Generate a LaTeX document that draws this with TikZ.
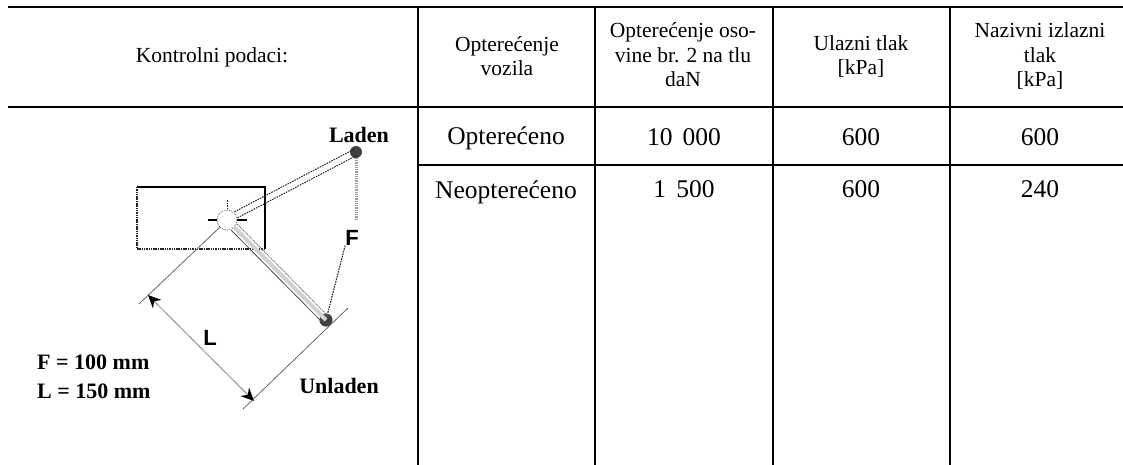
\documentclass[tikz,border=0pt]{standalone}
\usepackage{fontspec}
\setmainfont{Liberation Serif}
\newfontfamily\lsans{Liberation Sans}
\usetikzlibrary{arrows.meta}
\begin{document}
\begin{tikzpicture}[x=1pt,y=-1pt,
  rule/.style={line width=1.4pt,black},
  hd/.style={font=\fontsize{21.5}{24.5}\selectfont,align=center,inner sep=0pt,anchor=base},
  cell/.style={font=\fontsize{25.5}{28}\selectfont,align=center,inner sep=0pt,anchor=base},
  lbl/.style={font=\fontsize{22}{24}\selectfont\bfseries,inner sep=0pt,anchor=base},
  sym/.style={font=\lsans\bfseries\fontsize{22}{22}\selectfont,inner sep=0pt,anchor=center,black},
  dashline/.style={line width=1pt,black!85,dash pattern=on 1.6pt off 1pt},
  band/.style={line width=4pt,black!18},
  thinline/.style={line width=.8pt,black!70},
  extline/.style={line width=.8pt,black!60},
  dotball/.style={circle,fill=black!75,draw=black!60,densely dotted,inner sep=0pt},
  dim/.style={line width=1.4pt,black!45,dash pattern=on 1pt off .6pt,{Stealth[length=13pt,width=12pt,black]}-{Stealth[length=13pt,width=12pt,black]}}]
\useasboundingbox (0,0) rectangle (1123,465);
% table rules
\coordinate (tl) at (8,7); \coordinate (tr) at (1123,7);
\coordinate (hl) at (8,107); \coordinate (hr) at (1123,107);
\coordinate (rl) at (418,165); \coordinate (rr) at (1123,165);
\draw[rule] (tl)--(tr); \draw[rule] (hl)--(hr); \draw[rule] (rl)--(rr);
\foreach \n/\x in {a/418,b/595,c/773,d/950}{
  \coordinate (\n t) at (\x,7); \coordinate (\n b) at (\x,465);
  \draw[rule] (\n t)--(\n b);}
% headers
\node[hd] (h0) at (212,63) {Kontrolni podaci:};
\node[hd] (h1) at (507,76) {Opterećenje\\vozila};
\node[hd] (h2) at (683,87) {Opterećenje oso-\\vine br. 2 na tlu\\daN};
\node[hd] (h3) at (861,75) {Ulazni tlak\\{[kPa]}};
\node[hd] (h4) at (1040,87) {Nazivni izlazni\\tlak\\{[kPa]}};
% body cells
\node[cell] (c11) at (506,145) {Opterećeno};
\node[cell] (c12) at (684,146) {10\hspace{.4em}000};
\node[cell] (c13) at (861,146) {600};
\node[cell] (c14) at (1040,146) {600};
\node[cell] (c21) at (506,198) {Neopterećeno};
\node[cell] (c22) at (684,197) {1\hspace{.4em}500};
\node[cell] (c23) at (861,197) {600};
\node[cell] (c24) at (1040,197) {240};
% sketch: housing
\coordinate (rA) at (137,187); \coordinate (rB) at (265,187);
\coordinate (rC) at (265,249); \coordinate (rD) at (137,249);
\draw[line width=1.2pt,black] (rA)--(rB)--(rC);
\draw[line width=1.2pt,black!85,dash pattern=on 1.5pt off .8pt] (rC)--(rD)--(rA);
% balls
\node[dotball,minimum size=12pt] (lad) at (356,152) {};
\node[dotball,minimum size=13pt] (unl) at (326,320) {};
% pivot
\node[circle,draw=black!60,densely dotted,line width=.8pt,fill=white,minimum size=20pt,inner sep=0pt] (piv) at (227,220) {};
\coordinate (tL1) at (208,220); \coordinate (tL2) at (217,220);
\coordinate (tR1) at (237,220); \coordinate (tR2) at (247,220);
\coordinate (tT1) at (227,200); \coordinate (tT2) at (227,210);
\draw[line width=1.2pt,black] (tL1)--(tL2) (tR1)--(tR2);
\draw[dashline] (tT1)--(tT2);
% laden arm (two dashed lines)
\draw[dashline] ([shift={(-1.5,-3)}]piv.30)--([shift={(-1.5,-3)}]lad.center);
\draw[dashline] ([shift={(1.5,3)}]piv.30)--([shift={(1.5,3)}]lad.center);
% unladen arm
\draw[band] (piv.-45)--(unl.center);
\draw[thinline] ([shift={(-3,3)}]piv.-45)--([shift={(-3,3)}]unl.center);
\draw[line width=.8pt,black!60,dash pattern=on 1.2pt off .8pt] ([shift={(3,-3)}]piv.-45)--([shift={(3,-3)}]unl.center);
% F
\node[sym] (Ft) at (352,238) {F};
\coordinate (vt) at (356,158); \coordinate (vb) at (356,220);
\draw[line width=3pt,black!40,dash pattern=on 1pt off .8pt] (vt)--(vb);
\draw[dashline,line width=1.1pt] (Ft.south west)--(unl);
% L dimension
\coordinate (e1b) at (139,304);
\coordinate (e2a) at (348,308); \coordinate (e2b) at (243,409);
\draw[extline] (piv.-135)--(e1b);
\draw[extline] (e2a)--(e2b);
\coordinate (d1) at (148,295); \coordinate (d2) at (254,401);
\draw[dim] (d1)--(d2);
\node[sym] (Lt) at (210,338) {L};
% labels
\node[lbl] (lad2) at (359,143) {Laden};
\node[lbl] (unl2) at (339,393) {Unladen};
\node[lbl,anchor=base west] (f1) at (37,369) {F = 100 mm};
\node[lbl,anchor=base west] (f2) at (37,398) {L = 150 mm};
\end{tikzpicture}
\end{document}
